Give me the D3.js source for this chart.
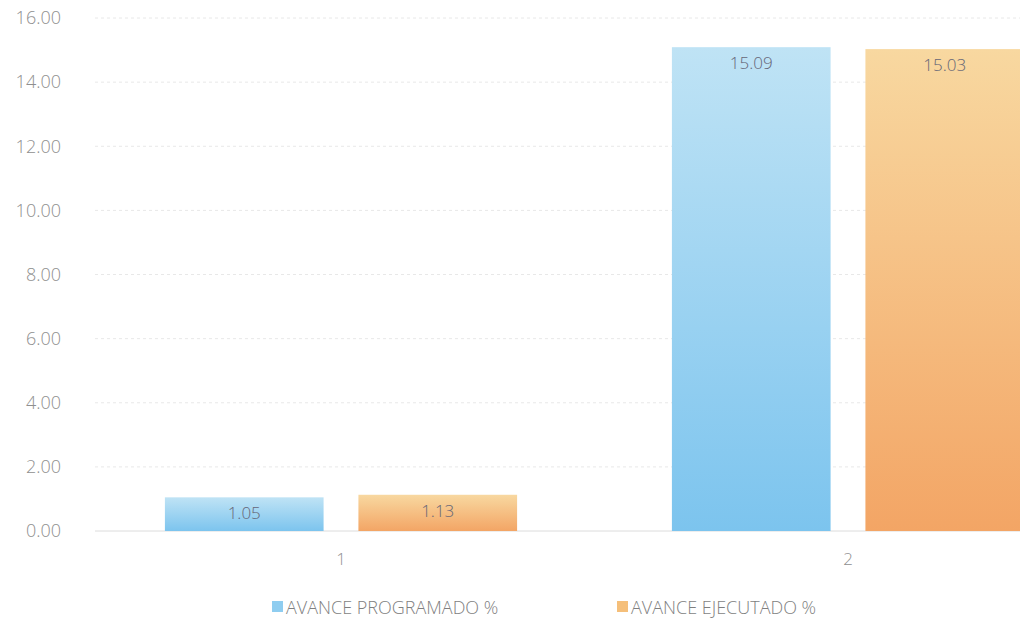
<!DOCTYPE html>
<html><head><meta charset="utf-8">
<script src="https://cdn.jsdelivr.net/npm/d3@7"></script>
<style>body{margin:0;background:#fff}svg{display:block;font-family:"Open Sans","Liberation Sans",sans-serif}</style>
</head><body>
<script>
const categories = ["1", "2"];
const seriesNames = ["AVANCE PROGRAMADO %", "AVANCE EJECUTADO %"];
const programado = [1.05, 15.09];
const ejecutado = [1.13, 15.03];
const yTicks = [0, 2, 4, 6, 8, 10, 12, 14, 16];

const W = 1020, H = 635;
const svg = d3.select("body").append("svg").attr("width", W).attr("height", H);
const defs = svg.append("defs");
const grads = [
  {id: "gBlue", top: "#bfe3f5", bot: "#7cc4ee"},
  {id: "gOrange", top: "#f8d8a0", bot: "#f3a565"}
];
grads.forEach(g => {
  const lg = defs.append("linearGradient").attr("id", g.id).attr("x1", 0).attr("y1", 0).attr("x2", 0).attr("y2", 1);
  lg.append("stop").attr("offset", "0%").attr("stop-color", g.top);
  lg.append("stop").attr("offset", "100%").attr("stop-color", g.bot);
});

const y = d3.scaleLinear().domain([0, 16]).range([531, 18]);
const x0 = d3.scaleBand().domain(categories).range([87.5, 1101.5]).padding(0);
const x1 = d3.scaleBand().domain(seriesNames).range([0, x0.bandwidth()]).paddingInner(0.18).paddingOuter(0.40);

// gridlines
svg.append("g").selectAll("line").data(yTicks).join("line")
  .attr("x1", 95).attr("x2", W)
  .attr("y1", d => y(d)).attr("y2", d => y(d))
  .attr("stroke", d => d === 0 ? "#dcdcdc" : "#e8e8e8")
  .attr("stroke-width", 1)
  .attr("stroke-dasharray", d => d === 0 ? null : "3,3");

// y axis labels
const yAxis = d3.axisLeft(y).tickValues(yTicks).tickFormat(d3.format(".2f")).tickSize(0).tickPadding(0);
const ya = svg.append("g").attr("transform", "translate(61,0)").call(yAxis);
ya.select(".domain").remove();
ya.selectAll("text").attr("fill", "#8f8f8f").style("font-size", "18px").style("font-family", "'Open Sans',sans-serif").style("font-weight", "300");

// x axis labels
const xAxis = d3.axisBottom(x0).tickSize(0).tickPadding(0);
const xa = svg.append("g").attr("transform", "translate(0,553)").call(xAxis);
xa.select(".domain").remove();
xa.selectAll("text").attr("fill", "#8f8f8f").style("font-size", "17px").style("font-family", "'Open Sans',sans-serif").style("font-weight", "300");

const data = categories.map((c, i) => ({cat: c, vals: [
  {s: seriesNames[0], v: programado[i], fill: "url(#gBlue)"},
  {s: seriesNames[1], v: ejecutado[i], fill: "url(#gOrange)"}
]}));

const groups = svg.append("g").selectAll("g").data(data).join("g")
  .attr("transform", d => `translate(${x0(d.cat)},0)`);
groups.selectAll("rect").data(d => d.vals).join("rect")
  .attr("x", d => x1(d.s)).attr("width", x1.bandwidth())
  .attr("y", d => y(d.v)).attr("height", d => y(0) - y(d.v))
  .attr("fill", d => d.fill);
groups.selectAll("text").data(d => d.vals).join("text")
  .attr("x", d => x1(d.s) + x1.bandwidth() / 2)
  .attr("y", d => y(d.v) + 22)
  .attr("text-anchor", "middle")
  .attr("fill", "#666677")
  .style("font-size", "17px")
  .style("font-weight", "300")
  .text(d => d3.format(".2f")(d.v));

// legend
const legend = svg.append("g");
const legItems = [
  {name: seriesNames[0], color: "#8fcdf0", x: 272},
  {name: seriesNames[1], color: "#f5bf7a", x: 617}
];
legItems.forEach(it => {
  legend.append("rect").attr("x", it.x).attr("y", 601).attr("width", 11).attr("height", 11).attr("fill", it.color);
  legend.append("text").attr("x", it.x + 14).attr("y", 614).attr("fill", "#7f7f7f")
    .style("font-size", "18px").style("font-weight", "300").text(it.name);
});
</script>
</body></html>
